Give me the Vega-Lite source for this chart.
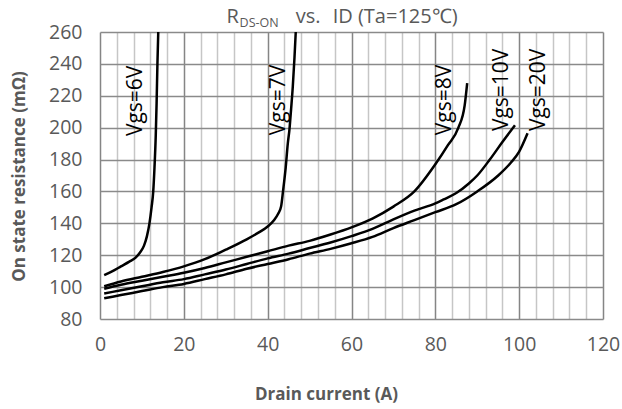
{
  "$schema": "https://vega.github.io/schema/vega-lite/v6.json",
  "width": 503,
  "height": 287,
  "autosize": {"type": "none"},
  "padding": {"left": 100, "top": 32, "right": 19, "bottom": 90},
  "background": "white",
  "config": {"view": {"stroke": null}, "font": "Open Sans"},
  "datasets": {
    "curves": [
      {"vgs": "6V", "id": 1, "r": 107.5}, {"vgs": "6V", "id": 3, "r": 110}, {"vgs": "6V", "id": 5, "r": 113},
      {"vgs": "6V", "id": 7, "r": 116}, {"vgs": "6V", "id": 8.5, "r": 118.5}, {"vgs": "6V", "id": 9.5, "r": 121.5},
      {"vgs": "6V", "id": 10.5, "r": 126}, {"vgs": "6V", "id": 11.2, "r": 132}, {"vgs": "6V", "id": 11.8, "r": 140},
      {"vgs": "6V", "id": 12.3, "r": 150}, {"vgs": "6V", "id": 12.7, "r": 160}, {"vgs": "6V", "id": 13, "r": 175},
      {"vgs": "6V", "id": 13.3, "r": 195}, {"vgs": "6V", "id": 13.5, "r": 215}, {"vgs": "6V", "id": 13.7, "r": 240},
      {"vgs": "6V", "id": 13.9, "r": 260},
      {"vgs": "7V", "id": 1, "r": 100.5}, {"vgs": "7V", "id": 5, "r": 103.5}, {"vgs": "7V", "id": 10, "r": 106.5},
      {"vgs": "7V", "id": 15, "r": 109.5}, {"vgs": "7V", "id": 20, "r": 113}, {"vgs": "7V", "id": 25, "r": 117.5},
      {"vgs": "7V", "id": 30, "r": 123.5}, {"vgs": "7V", "id": 35, "r": 130}, {"vgs": "7V", "id": 38, "r": 134.5},
      {"vgs": "7V", "id": 40, "r": 138}, {"vgs": "7V", "id": 41.5, "r": 142}, {"vgs": "7V", "id": 42.5, "r": 146},
      {"vgs": "7V", "id": 43.2, "r": 150.5}, {"vgs": "7V", "id": 43.7, "r": 161}, {"vgs": "7V", "id": 44.3, "r": 175},
      {"vgs": "7V", "id": 44.8, "r": 190}, {"vgs": "7V", "id": 45.2, "r": 199}, {"vgs": "7V", "id": 45.6, "r": 212},
      {"vgs": "7V", "id": 46, "r": 226}, {"vgs": "7V", "id": 46.4, "r": 244}, {"vgs": "7V", "id": 46.7, "r": 260},
      {"vgs": "8V", "id": 1, "r": 99}, {"vgs": "8V", "id": 5, "r": 101.5}, {"vgs": "8V", "id": 10, "r": 104},
      {"vgs": "8V", "id": 15, "r": 106.5}, {"vgs": "8V", "id": 20, "r": 109}, {"vgs": "8V", "id": 25, "r": 112},
      {"vgs": "8V", "id": 30, "r": 115.5}, {"vgs": "8V", "id": 35, "r": 119}, {"vgs": "8V", "id": 40, "r": 122.5},
      {"vgs": "8V", "id": 45, "r": 126}, {"vgs": "8V", "id": 50, "r": 129}, {"vgs": "8V", "id": 55, "r": 133},
      {"vgs": "8V", "id": 60, "r": 137.5}, {"vgs": "8V", "id": 65, "r": 143}, {"vgs": "8V", "id": 70, "r": 150.5},
      {"vgs": "8V", "id": 75, "r": 160}, {"vgs": "8V", "id": 80, "r": 177}, {"vgs": "8V", "id": 83, "r": 189},
      {"vgs": "8V", "id": 85.5, "r": 200}, {"vgs": "8V", "id": 87, "r": 214}, {"vgs": "8V", "id": 87.6, "r": 228},
      {"vgs": "10V", "id": 1, "r": 96}, {"vgs": "10V", "id": 5, "r": 98}, {"vgs": "10V", "id": 10, "r": 100.5},
      {"vgs": "10V", "id": 15, "r": 103}, {"vgs": "10V", "id": 20, "r": 105}, {"vgs": "10V", "id": 25, "r": 108},
      {"vgs": "10V", "id": 30, "r": 111}, {"vgs": "10V", "id": 35, "r": 114.5}, {"vgs": "10V", "id": 40, "r": 118},
      {"vgs": "10V", "id": 45, "r": 121}, {"vgs": "10V", "id": 50, "r": 124.5}, {"vgs": "10V", "id": 55, "r": 128},
      {"vgs": "10V", "id": 60, "r": 132}, {"vgs": "10V", "id": 65, "r": 136.5}, {"vgs": "10V", "id": 70, "r": 142.5},
      {"vgs": "10V", "id": 75, "r": 148}, {"vgs": "10V", "id": 80, "r": 152.5}, {"vgs": "10V", "id": 82, "r": 155},
      {"vgs": "10V", "id": 85, "r": 159}, {"vgs": "10V", "id": 88, "r": 165}, {"vgs": "10V", "id": 90, "r": 170},
      {"vgs": "10V", "id": 93, "r": 180}, {"vgs": "10V", "id": 96, "r": 191}, {"vgs": "10V", "id": 99, "r": 201.5},
      {"vgs": "20V", "id": 1, "r": 93}, {"vgs": "20V", "id": 5, "r": 95}, {"vgs": "20V", "id": 10, "r": 97.5},
      {"vgs": "20V", "id": 15, "r": 100}, {"vgs": "20V", "id": 20, "r": 102}, {"vgs": "20V", "id": 25, "r": 105},
      {"vgs": "20V", "id": 30, "r": 108}, {"vgs": "20V", "id": 35, "r": 111.5}, {"vgs": "20V", "id": 40, "r": 114.5},
      {"vgs": "20V", "id": 45, "r": 117.5}, {"vgs": "20V", "id": 50, "r": 121}, {"vgs": "20V", "id": 55, "r": 124},
      {"vgs": "20V", "id": 60, "r": 127.5}, {"vgs": "20V", "id": 65, "r": 131.5}, {"vgs": "20V", "id": 70, "r": 137},
      {"vgs": "20V", "id": 75, "r": 142}, {"vgs": "20V", "id": 80, "r": 147}, {"vgs": "20V", "id": 85, "r": 152},
      {"vgs": "20V", "id": 90, "r": 160}, {"vgs": "20V", "id": 95, "r": 170}, {"vgs": "20V", "id": 98, "r": 178},
      {"vgs": "20V", "id": 100, "r": 185}, {"vgs": "20V", "id": 102, "r": 196.5}
    ],
    "labels": [
      {"label": "Vgs=6V", "id": 8.7, "r": 216.8},
      {"label": "Vgs=7V", "id": 42.8, "r": 217.4},
      {"label": "Vgs=8V", "id": 82.2, "r": 217.4},
      {"label": "Vgs=10V", "id": 95.8, "r": 223.7},
      {"label": "Vgs=20V", "id": 104.7, "r": 223.7}
    ],
    "titleMain": [
      {"label": "R", "id": 30.2, "r": 265.7},
      {"label": "vs.", "id": 46.7, "r": 265.7},
      {"label": "ID (Ta=125℃)", "id": 55.5, "r": 265.7}
    ],
    "titleSub": [
      {"label": "DS-ON", "id": 33.3, "r": 263.2}
    ]
  },
  "encoding": {
    "x": {
      "field": "id", "type": "quantitative",
      "scale": {"domain": [0, 120], "nice": false, "zero": false},
      "axis": {
        "values": [0, 4, 8, 12, 16, 20, 24, 28, 32, 36, 40, 44, 48, 52, 56, 60, 64, 68, 72, 76, 80, 84, 88, 92, 96, 100, 104, 108, 112, 116, 120],
        "grid": true,
        "gridColor": {"condition": {"test": "datum.value % 20 === 0", "value": "#858585"}, "value": "#c6c6c6"},
        "gridWidth": 1.5,
        "ticks": false,
        "domain": false,
        "labelExpr": "datum.value % 20 === 0 ? datum.label : ''",
        "labelOverlap": false,
        "labelBound": false,
        "labelFlush": false,
        "labelFontSize": 19.5,
        "labelColor": "#595959",
        "labelPadding": 16,
        "title": "Drain current (A)",
        "titleFontSize": 17,
        "titleFontWeight": "bold",
        "titleColor": "#595959",
        "titleX": 226,
        "titleY": 75,
        "titleBaseline": "middle"
      }
    },
    "y": {
      "field": "r", "type": "quantitative",
      "scale": {"domain": [80, 260], "nice": false, "zero": false},
      "axis": {
        "values": [80, 100, 120, 140, 160, 180, 200, 220, 240, 260],
        "grid": true,
        "gridColor": "#8a8a8a",
        "gridWidth": 1.5,
        "ticks": false,
        "domain": false,
        "labelOverlap": false,
        "labelBound": false,
        "labelFlush": false,
        "labelFontSize": 19.5,
        "labelColor": "#595959",
        "labelPadding": 18,
        "title": "On state resistance (mΩ)",
        "titleFontSize": 17,
        "titleFontWeight": "bold",
        "titleColor": "#595959",
        "titleX": -81,
        "titleY": 144,
        "titleAlign": "center",
        "titleBaseline": "middle"
      }
    }
  },
  "layer": [
    {
      "data": {"name": "curves"},
      "mark": {"type": "line", "color": "black", "strokeWidth": 2.5, "interpolate": "monotone"},
      "encoding": {"detail": {"field": "vgs"}}
    },
    {
      "data": {"name": "labels"},
      "mark": {"type": "text", "angle": 270, "fontSize": 21, "align": "center", "baseline": "middle", "color": "black"},
      "encoding": {"text": {"field": "label"}}
    },
    {
      "data": {"name": "titleMain"},
      "mark": {"type": "text", "fontSize": 20, "align": "left", "baseline": "alphabetic", "color": "#595959"},
      "encoding": {"text": {"field": "label"}}
    },
    {
      "data": {"name": "titleSub"},
      "mark": {"type": "text", "fontSize": 12.5, "align": "left", "baseline": "alphabetic", "color": "#595959"},
      "encoding": {"text": {"field": "label"}}
    }
  ]
}
